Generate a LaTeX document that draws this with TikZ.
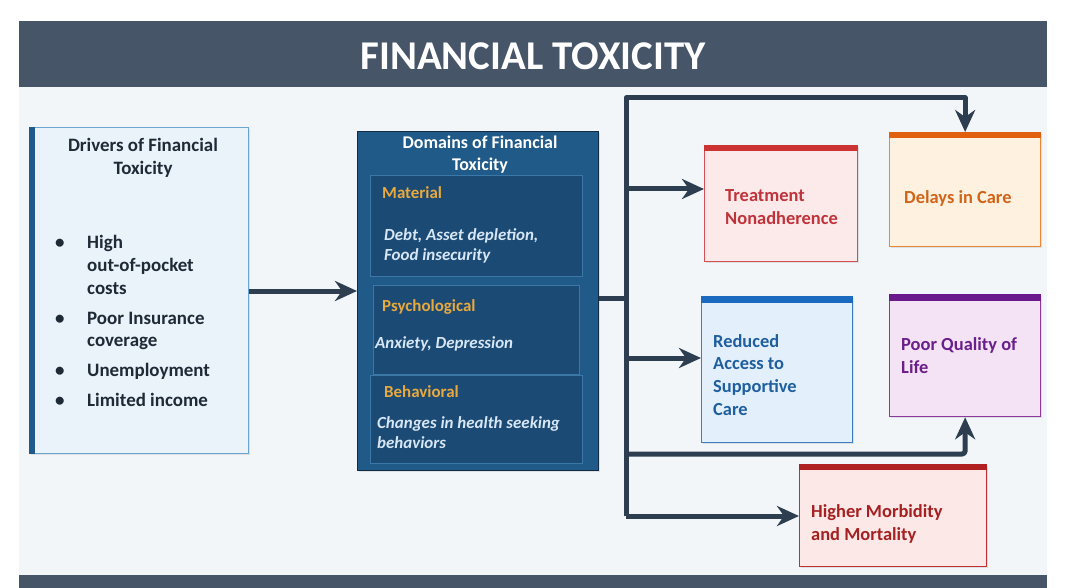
\documentclass[tikz,border=0pt]{standalone}
\usepackage{fontspec}
\setmainfont{Carlito}
\usetikzlibrary{arrows.meta,shadows}
\definecolor{titlebg}{HTML}{465568}
\definecolor{panel}{HTML}{F2F6F9}
\definecolor{conn}{HTML}{2C3E50}
\definecolor{drvfill}{HTML}{EAF2FA}
\definecolor{drvborder}{HTML}{6AA6CF}
\definecolor{drvbar}{HTML}{1F5A8A}
\definecolor{drvtext}{HTML}{1E2A36}
\definecolor{domfill}{HTML}{1F5A88}
\definecolor{domborder}{HTML}{122C46}
\definecolor{innerfill}{HTML}{1B4A74}
\definecolor{innerborder}{HTML}{3B78A8}
\definecolor{gold}{HTML}{E8A93E}
\definecolor{ittext}{HTML}{D8E7F5}
\definecolor{trfill}{HTML}{FCE9E9}
\definecolor{trborder}{HTML}{D2504F}
\definecolor{trbar}{HTML}{CC3333}
\definecolor{trtext}{HTML}{C0333A}
\definecolor{dlfill}{HTML}{FEF1DF}
\definecolor{dlborder}{HTML}{E68A3A}
\definecolor{dlbar}{HTML}{E0600F}
\definecolor{dltext}{HTML}{D0651A}
\definecolor{rafill}{HTML}{E3F0FB}
\definecolor{raborder}{HTML}{3A80C0}
\definecolor{rabar}{HTML}{1A6AC0}
\definecolor{ratext}{HTML}{1F5F9F}
\definecolor{pqfill}{HTML}{F3E3F5}
\definecolor{pqborder}{HTML}{8A3A9A}
\definecolor{pqbar}{HTML}{6A1A8A}
\definecolor{pqtext}{HTML}{6A1F8A}
\definecolor{hmfill}{HTML}{FDE8E8}
\definecolor{hmborder}{HTML}{C03030}
\definecolor{hmbar}{HTML}{B02020}
\definecolor{hmtext}{HTML}{A52020}
\begin{document}
\begin{tikzpicture}[x=1bp,y=-1bp,
  box/.style={draw, line width=1.3bp, anchor=north west, inner sep=0pt,
    drop shadow={opacity=0.18,shadow xshift=1.5bp,shadow yshift=-1.5bp}},
  inbox/.style={draw=innerborder, fill=innerfill, line width=0.8bp, anchor=north west, inner sep=0pt},
  conn/.style={draw=conn, line width=5bp, line join=round},
  arr/.style={conn, -{Stealth[length=22bp,width=20bp,inset=7bp]}},
  txt/.style={font=\fontsize{18.5}{23}\selectfont\bfseries, align=left, anchor=west, inner sep=0pt},
  lbl/.style={font=\fontsize{17}{20}\selectfont\bfseries, text=gold, anchor=west, inner sep=0pt},
  itl/.style={font=\fontsize{17}{20}\selectfont\bfseries\itshape, text=ittext, align=left, anchor=west, inner sep=0pt},
]
\useasboundingbox (0,0) rectangle (1067,588);
\fill[white] (0,0) rectangle (1067,588);
% panel and bars
\fill[panel] (19,87) rectangle (1047,575);
\fill[titlebg] (19,21) rectangle (1047,87);
\fill[titlebg] (19,575) rectangle (1047,588);
\node[font=\fontsize{41}{48}\selectfont\bfseries, text=white, inner sep=0pt] (title) at (533,56) {FINANCIAL TOXICITY};

% drivers
\node[box, draw=drvborder, fill=drvfill, minimum width=219bp, minimum height=326bp] (drv) at (29,127) {};
\fill[drvbar] (drv.north west) rectangle ([xshift=6bp]drv.south west);
\node[font=\fontsize{19}{23}\selectfont\bfseries, text=drvtext, align=center, inner sep=0pt] (drvtitle) at (143,158) {Drivers of Financial\\Toxicity};
\node[font=\fontsize{19}{23}\selectfont\bfseries, text=drvtext, anchor=west, inner sep=0pt] (drvlist) at (53,323) {%
\begin{tabular}{@{}l@{}l@{}}
\makebox[34bp][l]{\hspace{2bp}\textbullet} & High\\
 & out-of-pocket\\
 & costs\\[7bp]
\makebox[34bp][l]{\hspace{2bp}\textbullet} & Poor Insurance\\
 & coverage\\[7bp]
\makebox[34bp][l]{\hspace{2bp}\textbullet} & Unemployment\\[7bp]
\makebox[34bp][l]{\hspace{2bp}\textbullet} & Limited income
\end{tabular}};

% domains
\node[box, draw=domborder, fill=domfill, minimum width=241bp, minimum height=339bp] (dom) at (357,131) {};
\node[font=\fontsize{18}{22}\selectfont\bfseries, text=white, align=center, inner sep=0pt] (domtitle) at (480,155) {Domains of Financial\\Toxicity};
\node[inbox, minimum width=212bp, minimum height=101bp] (mat) at (370,175) {};
\node[inbox, minimum width=206bp, minimum height=89bp] (psy) at (373,285) {};
\node[inbox, minimum width=212bp, minimum height=88bp] (beh) at (370,375) {};
\node[lbl] (matl) at (382,193) {Material};
\node[itl] (matt) at (384,246) {Debt, Asset depletion,\\Food insecurity};
\node[lbl] (psyl) at (382,307) {Psychological};
\node[itl] (psyt) at (375,344) {Anxiety, Depression};
\node[lbl] (behl) at (384,392) {Behavioral};
\node[itl] (beht) at (377,433) {Changes in health seeking\\behaviors};

% outcome boxes
\node[box, draw=trborder, fill=trfill, minimum width=153bp, minimum height=116bp] (treat) at (704,145) {};
\fill[trbar] (treat.north west) rectangle ([yshift=-6bp]treat.north east);
\node[txt, text=trtext] (treatt) at (725,207) {Treatment\\Nonadherence};

\node[box, draw=dlborder, fill=dlfill, minimum width=151bp, minimum height=114bp] (delay) at (889,132) {};
\fill[dlbar] (delay.north west) rectangle ([yshift=-6bp]delay.north east);
\node[txt, text=dltext] (delayt) at (904,198) {Delays in Care};

\node[box, draw=raborder, fill=rafill, minimum width=151bp, minimum height=146bp] (red) at (701,296) {};
\fill[rabar] (red.north west) rectangle ([yshift=-7bp]red.north east);
\node[txt, text=ratext] (redt) at (713,375) {Reduced\\Access to\\Supportive\\Care};

\node[box, draw=pqborder, fill=pqfill, minimum width=151bp, minimum height=122bp] (poor) at (889,294) {};
\fill[pqbar] (poor.north west) rectangle ([yshift=-7bp]poor.north east);
\node[txt, text=pqtext] (poort) at (901,356) {Poor Quality of\\Life};

\node[box, draw=hmborder, fill=hmfill, minimum width=187bp, minimum height=102bp] (morb) at (799,464) {};
\fill[hmbar] (morb.north west) rectangle ([yshift=-6bp]morb.north east);
\node[txt, text=hmtext] (morbt) at (811,524) {Higher Morbidity\\and Mortality};

% connectors
\coordinate (ttop) at (626,98);
\coordinate (tbot) at (626,516);
\coordinate (tdom) at (626,298);
\coordinate (ttreat) at (626,189);
\coordinate (tred) at (626,358);
\coordinate (tpoor) at (626,454);
\draw[arr] (drv.east |- 0,291) -- (dom.west |- 0,291);
\draw[conn] (dom.east |- tdom) -- (tdom);
\draw[arr] (tbot) -- (ttop) -| (delay.north);
\draw[arr] (ttreat) -- (treat.west |- ttreat);
\draw[arr] (tred) -- (red.west |- tred);
\draw[arr, rounded corners=3bp] (tpoor) -| (poor.south);
\draw[arr] (tbot) -- (morb.west |- tbot);
\end{tikzpicture}
\end{document}
